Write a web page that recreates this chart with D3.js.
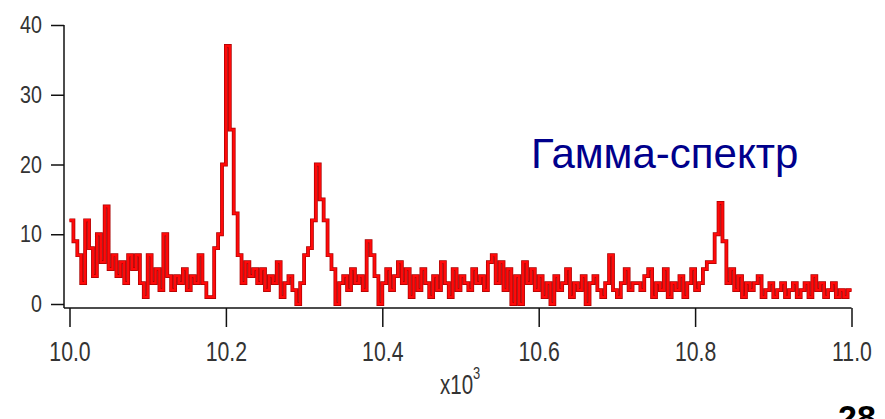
<!DOCTYPE html>
<html>
<head>
<meta charset="utf-8">
<script src="https://cdn.jsdelivr.net/npm/d3@7"></script>
<style>
  body { margin: 0; background: #fff; }
  .tick text { font-family: "Liberation Sans", Arial, sans-serif; fill: #333; }
</style>
</head>
<body>
<div id="chart"></div>
<script>
// spectrum: counts per channel, channels of 0.005 (x10^3) starting at 10.000
var channelStart = 10.0, channelWidth = 0.005;
var counts = [
  12, 9, 7, 3, 12, 8, 4, 10, 6, 14, 5, 7, 4, 6, 3, 7, 5, 7, 3, 1,
  7, 3, 5, 2, 10, 4, 2, 4, 3, 5, 2, 4, 3, 7, 3, 1, 1, 8, 10, 20,
  37, 25, 13, 7, 3, 6, 4, 5, 3, 5, 2, 4, 3, 6, 1, 3, 4, 2, 0, 3,
  7, 8, 12, 20, 15, 12, 7, 5, 0, 3, 4, 2, 5, 3, 4, 2, 9, 7, 4, 0,
  3, 5, 2, 4, 6, 3, 5, 1, 4, 2, 5, 3, 1, 4, 2, 6, 3, 1, 5, 2,
  4, 3, 2, 5, 3, 4, 2, 6, 7, 3, 6, 2, 5, 0, 4, 0, 6, 3, 5, 2,
  4, 1, 3, 0, 4, 2, 3, 5, 1, 3, 2, 4, 0, 3, 4, 2, 1, 3, 7, 2,
  1, 3, 5, 2, 3, 3, 2, 4, 5, 1, 3, 2, 5, 1, 3, 2, 4, 1, 3, 5,
  2, 3, 5, 6, 6, 10, 14.5, 9, 3, 5, 2, 4, 1, 3, 2, 3, 4, 1, 2, 3,
  1, 2, 3, 1, 2, 3, 1, 2, 3, 1, 4, 2, 3, 1, 2, 3, 1, 2, 1, 2
];
var xTicks = [10.0, 10.2, 10.4, 10.6, 10.8, 11.0];
var yTicks = [0, 10, 20, 30, 40];
var title = "Гамма-спектр";
var slideNumber = "28";

var width = 885, height = 419;

var svg = d3.select("#chart")
    .append("svg")
    .attr("width", width)
    .attr("height", height);

var x = d3.scaleLinear().domain([10.0, 11.0]).range([69.5, 851.5]);
var y = d3.scaleLinear().domain([0, 40]).range([304, 25]);

var axisX = 64, axisY = 308;

// points for step line
var pts = counts.map(function(c, i) { return [channelStart + i * channelWidth, c]; });
pts.push([channelStart + counts.length * channelWidth, counts[counts.length - 1]]);

var line = d3.line()
    .x(function(d) { return x(d[0]); })
    .y(function(d) { return y(d[1]); })
    .curve(d3.curveStepAfter);

svg.append("path")
    .datum(pts)
    .attr("fill", "none")
    .attr("stroke", "#a80000")
    .attr("stroke-width", 3.8)
    .attr("d", line);

svg.append("path")
    .datum(pts)
    .attr("fill", "none")
    .attr("stroke", "#ff0a0a")
    .attr("stroke-width", 2.4)
    .attr("d", line);

// y axis
var gy = svg.append("g")
    .attr("transform", "translate(" + axisX + ",0)")
    .call(d3.axisLeft(y).tickValues(yTicks).tickSize(13).tickPadding(9).tickSizeOuter(0));
gy.select(".domain").remove();
gy.selectAll(".tick line").attr("stroke", "#111").attr("stroke-width", 1.5);
gy.selectAll(".tick text")
    .style("font-size", "24px")
    .attr("x", 0)
    .attr("transform", "translate(-22,0) scale(0.82,1)");
svg.append("line")
    .attr("x1", axisX).attr("x2", axisX)
    .attr("y1", y(40)).attr("y2", axisY)
    .attr("stroke", "#111").attr("stroke-width", 1.5);

// x axis
var gx = svg.append("g")
    .attr("transform", "translate(0," + axisY + ")")
    .call(d3.axisBottom(x).tickValues(xTicks).tickFormat(d3.format(".1f")).tickSize(19).tickPadding(14).tickSizeOuter(0));
gx.select(".domain").remove();
gx.selectAll(".tick line").attr("stroke", "#111").attr("stroke-width", 1.5);
gx.selectAll(".tick text")
    .style("font-size", "28px")
    .attr("transform", "scale(0.76,1)");
svg.append("line")
    .attr("x1", axisX).attr("x2", x(11.0))
    .attr("y1", axisY).attr("y2", axisY)
    .attr("stroke", "#111").attr("stroke-width", 1.5);

// x10^3 label
var unit = svg.append("text")
    .attr("x", 0).attr("y", 0)
    .attr("transform", "translate(440,394) scale(0.76,1)")
    .style("font-family", "'Liberation Sans', Arial, sans-serif")
    .style("font-size", "27px")
    .attr("fill", "#333");
unit.append("tspan").text("x10");
unit.append("tspan").attr("dy", -15).style("font-size", "17px").text("3");

// title
svg.append("text")
    .attr("x", 531).attr("y", 168)
    .style("font-family", "'Liberation Sans', Arial, sans-serif")
    .style("font-size", "42px")
    .attr("fill", "#00008c")
    .text(title);

// slide number (cut at bottom edge, as in the slide)
svg.append("text")
    .attr("x", 838).attr("y", 429)
    .style("font-family", "'Liberation Sans', Arial, sans-serif")
    .style("font-size", "34px")
    .style("font-weight", "bold")
    .attr("fill", "#000")
    .text(slideNumber);
</script>
</body>
</html>
